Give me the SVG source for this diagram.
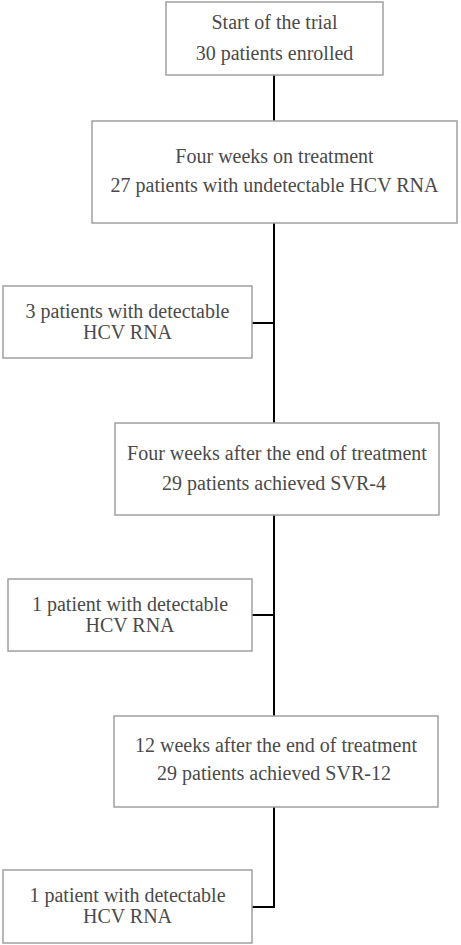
<svg xmlns="http://www.w3.org/2000/svg" width="461" height="945" viewBox="0 0 461 945">
<style>
.box{fill:#fff;stroke:#a0a0a0;stroke-width:1.5}
.c{fill:none;stroke:#000;stroke-width:2}
</style>
<rect width="461" height="945" fill="#fff"/>
<g id="connectors">
<path class="c" d="M274 75V121"/>
<path class="c" d="M274 223V423"/>
<path class="c" d="M252 323H274"/>
<path class="c" d="M274 515V716"/>
<path class="c" d="M252 615H274"/>
<path class="c" d="M274 807V907H252"/>
</g>
<g font-family="Liberation Serif, serif" font-size="20" fill="#4a4a4a" text-anchor="middle">
<g id="n1"><rect class="box" x="166" y="2" width="217" height="73"/>
<text x="274.5" y="29">Start of the trial</text>
<text x="274.5" y="60">30 patients enrolled</text></g>
<g id="n2"><rect class="box" x="92" y="121" width="365" height="102"/>
<text x="274.5" y="163">Four weeks on treatment</text>
<text x="274.5" y="192">27 patients with undetectable HCV RNA</text></g>
<g id="n3"><rect class="box" x="3" y="286" width="249" height="72"/>
<text x="127.5" y="318">3 patients with detectable</text>
<text x="127.5" y="339">HCV RNA</text></g>
<g id="n4"><rect class="box" x="115" y="423" width="324" height="92"/>
<text x="277" y="460">Four weeks after the end of treatment</text>
<text x="274" y="490">29 patients achieved SVR-4</text></g>
<g id="n5"><rect class="box" x="8" y="579" width="244" height="72"/>
<text x="130" y="611">1 patient with detectable</text>
<text x="130" y="632">HCV RNA</text></g>
<g id="n6"><rect class="box" x="114" y="716" width="324" height="91"/>
<text x="276" y="752">12 weeks after the end of treatment</text>
<text x="274" y="780">29 patients achieved SVR-12</text></g>
<g id="n7"><rect class="box" x="3" y="870" width="249" height="73"/>
<text x="127.5" y="902">1 patient with detectable</text>
<text x="127.5" y="923">HCV RNA</text></g>
</g>
</svg>
